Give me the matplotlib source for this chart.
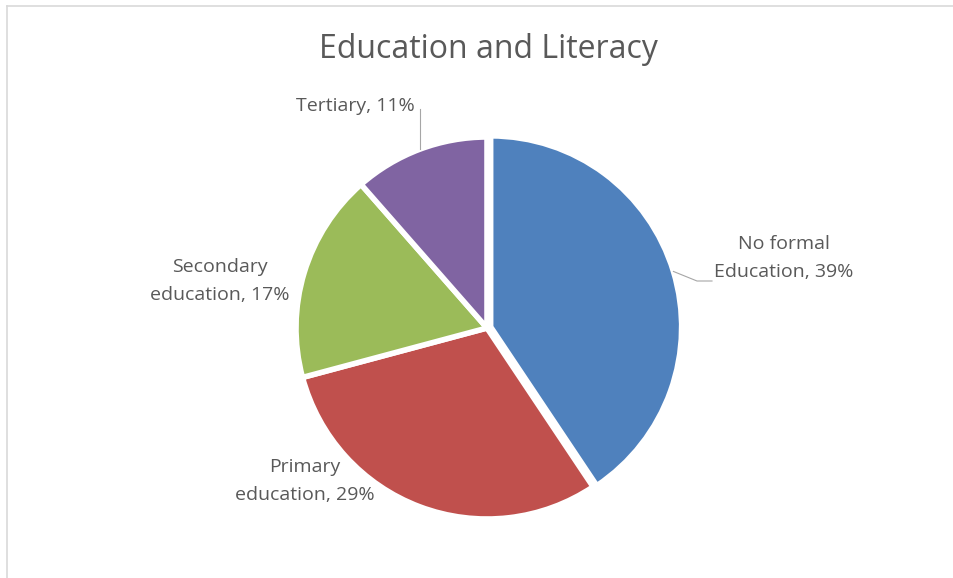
import matplotlib
matplotlib.use('Agg')
import matplotlib.pyplot as plt
from matplotlib.lines import Line2D
import numpy

# Education level shares (percent, as labelled)
categories = ['No formal\nEducation', 'Primary\neducation', 'Secondary\neducation', 'Tertiary']
shares = [39, 29, 17, 11]
colors = ['#4F81BD', '#C0504D', '#9BBB59', '#8064A2']
title_text = 'Education and Literacy'

W, H = 954, 578
cx, cy = 487.0, 328.0     # pie centre in pixels (from top-left)
scale = 191.0              # pixels per data unit (pie radius)

def px(x, y):
  return ((x - cx) / scale, (cy - y) / scale)

plt.rcParams['font.family'] = ['Open Sans', 'DejaVu Sans']
text_color = '#595959'

fig = plt.figure(figsize=(W / 100.0, H / 100.0), dpi=100)
ax = fig.add_axes([0, 0, 1, 1])

wedges, _ = ax.pie(shares, colors=colors, startangle=90, counterclock=False,
                   explode=[0.02, 0, 0, 0], radius=1.0,
                   wedgeprops=dict(edgecolor='white', linewidth=4.0))

ax.set_xlim(-cx / scale, (W - cx) / scale)
ax.set_ylim(-(H - cy) / scale, cy / scale)
ax.set_aspect('auto')
ax.axis('off')

# title
tx, ty = px(488, 50)
ax.text(tx, ty, title_text, ha='center', va='center', fontsize=23, color=text_color)

# labels with their positions (pixels) and leader line paths
label_pos = [(784, 258), (305, 481), (220, 281), (355, 106)]
leader_pts = [[(697, 281), (712, 281)], None, None, [(420, 109)]]

for i, (name, val) in enumerate(zip(categories, shares)):
  lx, ly = px(*label_pos[i])
  ax.text(lx, ly, name + ', ' + str(val) + '%', ha='center', va='center',
          fontsize=14, color=text_color, linespacing=1.7)
  if leader_pts[i] is not None:
    w = wedges[i]
    ang = numpy.deg2rad(0.5 * (w.theta1 + w.theta2))
    xs = [w.center[0] + w.r * numpy.cos(ang)]
    ys = [w.center[1] + w.r * numpy.sin(ang)]
    for p in leader_pts[i]:
      ex, ey = px(*p)
      xs.append(xs[0] if i == 3 else ex)
      ys.append(ey)
    ax.plot(xs, ys, color='#a6a6a6', lw=0.8)

# chart border (top and left edges)
fig.add_artist(Line2D([7 / W, 1.0], [1 - 6 / H, 1 - 6 / H], color='#d9d9d9', lw=1.2))
fig.add_artist(Line2D([7 / W, 7 / W], [0.0, 1 - 6 / H], color='#d9d9d9', lw=1.2))

plt.savefig('out.png', dpi=100)
